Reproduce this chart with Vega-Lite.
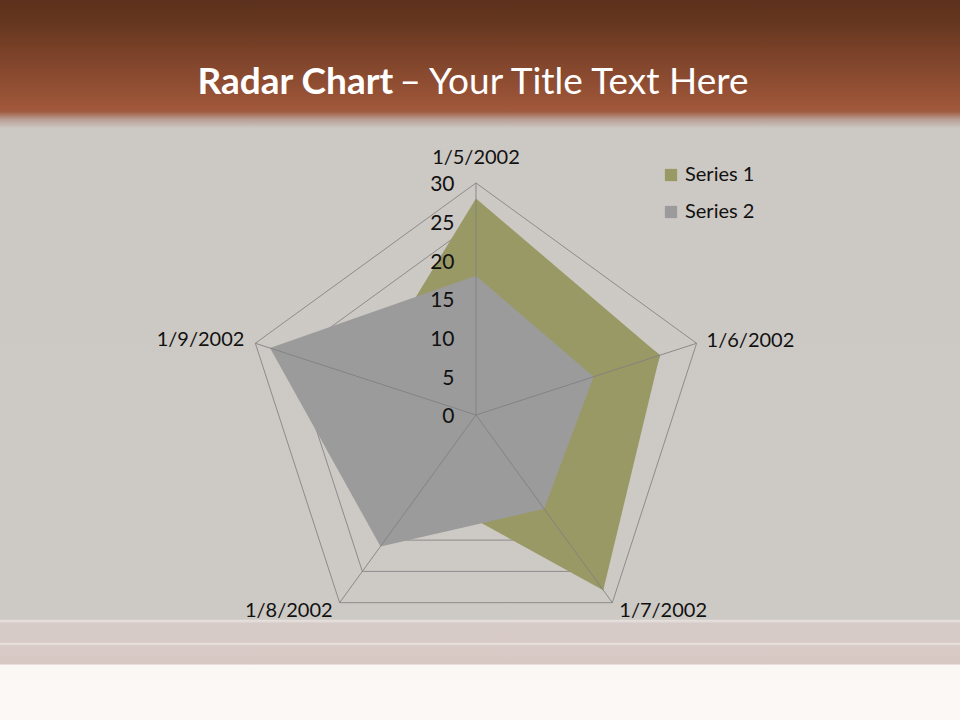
{
  "$schema": "https://vega.github.io/schema/vega-lite/v6.json",
  "width": 960,
  "height": 720,
  "autosize": {"type": "fit", "contains": "padding"},
  "padding": 0,
  "background": "#fcf8f5",
  "view": {
    "stroke": null,
    "fill": {
      "gradient": "linear", "x1": 0, "y1": 0, "x2": 0, "y2": 1,
      "stops": [
        {"offset": 0, "color": "#5c311d"},
        {"offset": 0.03, "color": "#65361f"},
        {"offset": 0.15, "color": "#a0573a"},
        {"offset": 0.155, "color": "#a05c40"},
        {"offset": 0.166, "color": "#b99f95"},
        {"offset": 0.178, "color": "#ccc8c4"},
        {"offset": 0.86, "color": "#cdc9c5"},
        {"offset": 0.862, "color": "#e8e2df"},
        {"offset": 0.866, "color": "#d6cbc8"},
        {"offset": 0.892, "color": "#d7cac6"},
        {"offset": 0.894, "color": "#ebe3e0"},
        {"offset": 0.897, "color": "#d8cac6"},
        {"offset": 0.922, "color": "#d8c8c3"},
        {"offset": 0.924, "color": "#fbf7f4"},
        {"offset": 1, "color": "#fcf8f5"}
      ]
    }
  },
  "config": {
    "font": "Lato",
    "axis": {"grid": false, "domain": false, "ticks": false}
  },
  "datasets": {
    "radar": [
      {"date": "1/5/2002", "series": "Series 1", "value": 28},
      {"date": "1/6/2002", "series": "Series 1", "value": 25},
      {"date": "1/7/2002", "series": "Series 1", "value": 28},
      {"date": "1/8/2002", "series": "Series 1", "value": 12},
      {"date": "1/9/2002", "series": "Series 1", "value": 15},
      {"date": "1/5/2002", "series": "Series 2", "value": 18},
      {"date": "1/6/2002", "series": "Series 2", "value": 16},
      {"date": "1/7/2002", "series": "Series 2", "value": 15},
      {"date": "1/8/2002", "series": "Series 2", "value": 21},
      {"date": "1/9/2002", "series": "Series 2", "value": 28}
    ]
  },
  "data": {"name": "radar"},
  "transform": [
    {"calculate": "indexof(['1/5/2002','1/6/2002','1/7/2002','1/8/2002','1/9/2002'], datum.date) * 2 * PI / 5", "as": "angle"}
  ],
  "encoding": {
    "x": {
      "field": "px", "type": "quantitative",
      "scale": {"domain": [-61.55, 62.59], "nice": false, "zero": false},
      "axis": {
        "orient": "top", "labels": false, "zindex": 1,
        "title": "Radar Chart", "titleX": 197, "titleY": 93,
        "titleAlign": "left", "titleBaseline": "alphabetic", "titleAngle": 0,
        "titleFont": "Lato", "titleFontSize": 37, "titleFontWeight": "bold", "titleColor": "#ffffff"
      }
    },
    "y": {
      "field": "py", "type": "quantitative",
      "scale": {"domain": [-39.44, 53.66], "nice": false, "zero": false},
      "axis": {
        "orient": "left", "offset": -454, "values": [0, 5, 10, 15, 20, 25, 30], "zindex": 1,
        "labelFont": "Lato", "labelFontSize": 21, "labelColor": "#111111", "labelPadding": 0, "labelOffset": 2,
        "title": "– Your Title Text Here", "titleX": -55, "titleY": 93,
        "titleAlign": "left", "titleBaseline": "alphabetic", "titleAngle": 0,
        "titleFont": "Lato", "titleFontSize": 37, "titleFontWeight": "normal", "titleColor": "#ffffff"
      }
    }
  },
  "layer": [
    {
      "transform": [
        {"filter": "datum.series === 'Series 1'"},
        {"calculate": "[5,10,15,20,25,30]", "as": "ring"},
        {"flatten": ["ring"]},
        {"calculate": "datum.ring * sin(datum.angle)", "as": "px"},
        {"calculate": "datum.ring * cos(datum.angle)", "as": "py"}
      ],
      "mark": {"type": "line", "interpolate": "linear-closed", "stroke": "#8c8c8c", "strokeWidth": 1},
      "encoding": {
        "detail": {"field": "ring", "type": "nominal"},
        "order": {"field": "angle", "type": "quantitative"}
      }
    },
    {
      "transform": [
        {"calculate": "datum.value * sin(datum.angle)", "as": "px"},
        {"calculate": "datum.value * cos(datum.angle)", "as": "py"}
      ],
      "mark": {"type": "line", "interpolate": "linear-closed", "filled": true, "strokeWidth": 0, "fillOpacity": 1},
      "encoding": {
        "color": {
          "field": "series", "type": "nominal",
          "scale": {"domain": ["Series 1", "Series 2"], "range": ["#999966", "#9b9b9b"]},
          "legend": {
            "orient": "none", "legendX": 661, "legendY": 165, "title": null,
            "symbolType": "square", "symbolSize": 150, "symbolStrokeWidth": 0,
            "labelFont": "Lato", "labelFontSize": 20, "labelColor": "#111111",
            "rowPadding": 17, "labelOffset": 4, "padding": 0
          }
        },
        "order": {"field": "angle", "type": "quantitative"}
      }
    },
    {
      "transform": [
        {"filter": "datum.series === 'Series 1'"},
        {"calculate": "[0,30]", "as": "r"},
        {"flatten": ["r"]},
        {"calculate": "datum.r * sin(datum.angle)", "as": "px"},
        {"calculate": "datum.r * cos(datum.angle)", "as": "py"}
      ],
      "mark": {"type": "line", "stroke": "#7f7f7f", "strokeWidth": 1, "opacity": 0.85},
      "encoding": {
        "detail": {"field": "date", "type": "nominal"},
        "order": {"field": "r", "type": "quantitative"}
      }
    },
    {
      "transform": [
        {"filter": "datum.series === 'Series 1'"},
        {"calculate": "30 * sin(datum.angle)", "as": "px"},
        {"calculate": "30 * cos(datum.angle)", "as": "py"}
      ],
      "encoding": {
        "text": {"field": "date", "type": "nominal"}
      },
      "layer": [
        {
          "transform": [{"filter": "datum.date === '1/5/2002'"}],
          "mark": {"type": "text", "font": "Lato", "fontSize": 20, "color": "#111111", "align": "center", "baseline": "alphabetic", "dy": -19}
        },
        {
          "transform": [{"filter": "datum.date === '1/6/2002'"}],
          "mark": {"type": "text", "font": "Lato", "fontSize": 20, "color": "#111111", "align": "left", "baseline": "middle", "dx": 10, "dy": -2}
        },
        {
          "transform": [{"filter": "datum.date === '1/7/2002'"}],
          "mark": {"type": "text", "font": "Lato", "fontSize": 20, "color": "#111111", "align": "left", "baseline": "middle", "dx": 7, "dy": 8}
        },
        {
          "transform": [{"filter": "datum.date === '1/8/2002'"}],
          "mark": {"type": "text", "font": "Lato", "fontSize": 20, "color": "#111111", "align": "right", "baseline": "middle", "dx": -7, "dy": 8}
        },
        {
          "transform": [{"filter": "datum.date === '1/9/2002'"}],
          "mark": {"type": "text", "font": "Lato", "fontSize": 20, "color": "#111111", "align": "right", "baseline": "middle", "dx": -11, "dy": -3}
        }
      ]
    }
  ]
}
